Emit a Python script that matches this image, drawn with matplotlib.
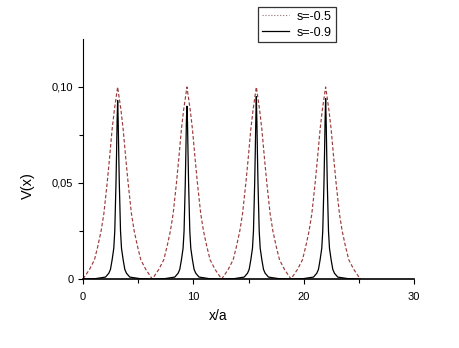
import numpy as np
import matplotlib
matplotlib.use("Agg")
import matplotlib.pyplot as plt
from matplotlib.lines import Line2D
from matplotlib.ticker import MultipleLocator, FixedLocator

plt.rcParams['font.family'] = ['Liberation Sans', 'DejaVu Sans']

# s = -0.5 (red dashed)
red_x = [0.0, 0.24, 0.59, 1.04, 1.34, 1.64, 1.89, 2.19, 2.39, 2.64, 2.84, 2.99,
         3.14, 3.29, 3.44, 3.64, 3.89, 4.09, 4.39, 4.64, 4.94, 5.24, 5.69, 6.04,
         6.28, 6.52, 6.87, 7.32, 7.62, 7.92, 8.17, 8.47, 8.67, 8.92, 9.12, 9.27,
         9.42, 9.57, 9.72, 9.92, 10.17, 10.37, 10.67, 10.92, 11.22, 11.52, 11.97, 12.32,
         12.57, 12.81, 13.16, 13.61, 13.91, 14.21, 14.46, 14.76, 14.96, 15.21, 15.41, 15.56,
         15.71, 15.86, 16.01, 16.21, 16.46, 16.66, 16.96, 17.21, 17.51, 17.81, 18.26, 18.61,
         18.85, 19.09, 19.44, 19.89, 20.19, 20.49, 20.74, 21.04, 21.24, 21.49, 21.69, 21.84,
         21.99, 22.14, 22.29, 22.49, 22.74, 22.94, 23.24, 23.49, 23.79, 24.09, 24.54, 24.89,
         25.13]
red_y = [0.0, 0.002, 0.005, 0.010, 0.017, 0.025, 0.034, 0.050, 0.062, 0.078, 0.088, 0.094,
         0.100, 0.094, 0.088, 0.078, 0.062, 0.050, 0.034, 0.025, 0.017, 0.010, 0.005, 0.002,
         0.0, 0.002, 0.005, 0.010, 0.017, 0.025, 0.034, 0.050, 0.062, 0.078, 0.088, 0.094,
         0.100, 0.094, 0.088, 0.078, 0.062, 0.050, 0.034, 0.025, 0.017, 0.010, 0.005, 0.002,
         0.0, 0.002, 0.005, 0.010, 0.017, 0.025, 0.034, 0.050, 0.062, 0.078, 0.088, 0.094,
         0.100, 0.094, 0.088, 0.078, 0.062, 0.050, 0.034, 0.025, 0.017, 0.010, 0.005, 0.002,
         0.0, 0.002, 0.005, 0.010, 0.017, 0.025, 0.034, 0.050, 0.062, 0.078, 0.088, 0.094,
         0.100, 0.094, 0.088, 0.078, 0.062, 0.050, 0.034, 0.025, 0.017, 0.010, 0.005, 0.002,
         0.0]

# s = -0.9 (black solid)
black_x = [0.0, 1.14, 2.04, 2.34, 2.49, 2.64, 2.79, 2.88, 2.99, 3.04, 3.09,
           3.14, 3.19, 3.24, 3.29, 3.40, 3.49, 3.64, 3.79, 3.94, 4.24, 5.14,
           6.28, 7.42, 8.32, 8.62, 8.77, 8.92, 9.07, 9.16, 9.27, 9.32, 9.37,
           9.42, 9.47, 9.52, 9.57, 9.68, 9.77, 9.92, 10.07, 10.22, 10.52, 11.42,
           12.57, 13.71, 14.61, 14.91, 15.06, 15.21, 15.36, 15.45, 15.56, 15.61, 15.66,
           15.71, 15.76, 15.81, 15.86, 15.97, 16.06, 16.21, 16.36, 16.51, 16.81, 17.71,
           18.85, 19.99, 20.89, 21.19, 21.34, 21.49, 21.64, 21.73, 21.84, 21.89, 21.94,
           21.99, 22.04, 22.09, 22.14, 22.25, 22.34, 22.49, 22.64, 22.79, 23.09, 23.99,
           25.13]
black_y = [0.0, 0.0002, 0.001, 0.003, 0.005, 0.010, 0.016, 0.025, 0.050, 0.065, 0.082,
           0.093, 0.082, 0.065, 0.050, 0.025, 0.016, 0.010, 0.005, 0.003, 0.001, 0.0002,
           0.0, 0.0002, 0.001, 0.003, 0.005, 0.010, 0.016, 0.025, 0.050, 0.065, 0.082,
           0.090, 0.082, 0.065, 0.050, 0.025, 0.016, 0.010, 0.005, 0.003, 0.001, 0.0002,
           0.0, 0.0002, 0.001, 0.003, 0.005, 0.010, 0.016, 0.025, 0.050, 0.065, 0.082,
           0.095, 0.082, 0.065, 0.050, 0.025, 0.016, 0.010, 0.005, 0.003, 0.001, 0.0002,
           0.0, 0.0002, 0.001, 0.003, 0.005, 0.010, 0.016, 0.025, 0.050, 0.065, 0.082,
           0.094, 0.082, 0.065, 0.050, 0.025, 0.016, 0.010, 0.005, 0.003, 0.001, 0.0002,
           0.0]

xticks = [0, 10, 20, 30]
yticks = [0, 0.05, 0.10]
ytick_labels = ["0", "0,05", "0,10"]
labels = ["s=-0.5", "s=-0.9"]

red = '#9c3c3c'

fig = plt.figure(figsize=(4.59, 3.48), dpi=100)
ax = fig.add_axes([83/459, 1 - 279/348, (414 - 83)/459, (279 - 39)/348])

ax.plot(red_x, red_y, color=red, lw=0.85, dashes=(3, 1.8))
ax.plot(black_x, black_y, color='black', lw=0.9)

ax.set_xlim(0, 30)
ax.set_ylim(0, 0.125)
ax.set_xticks(xticks)
ax.set_yticks(yticks)
ax.set_yticklabels(ytick_labels)
ax.xaxis.set_minor_locator(MultipleLocator(5))
ax.yaxis.set_minor_locator(FixedLocator([0.025, 0.075]))
ax.tick_params(which='major', direction='out', length=3.5, width=0.8, labelsize=8)
ax.tick_params(which='minor', direction='out', length=3, width=0.8)
ax.tick_params(axis='y', pad=3.5)
ax.tick_params(axis='x', pad=6)

for side in ['top', 'right']:
    ax.spines[side].set_visible(False)
ax.spines['left'].set_linewidth(0.8)
ax.spines['bottom'].set_linewidth(1.2)

ax.set_xlabel("x/a", fontsize=10)
ax.xaxis.set_label_coords((218 - 83) / 331, (279 - 309) / 240)
ax.set_ylabel("V(x)", fontsize=10.5, va='center')
ax.yaxis.set_label_coords((28 - 83) / 331, (279 - 186) / 240)

handles = [Line2D([], [], color='#907070', lw=0.8, ls=':'),
           Line2D([], [], color='black', lw=0.9)]
leg = fig.legend(handles, labels, loc='upper left',
                 bbox_to_anchor=(258/459, 1 - 7/348), bbox_transform=fig.transFigure,
                 fontsize=9, frameon=True, fancybox=False, borderaxespad=0,
                 handlelength=2.2, handletextpad=0.6, borderpad=0.3, labelspacing=0.3)
leg.get_frame().set_edgecolor('black')
leg.get_frame().set_linewidth(0.9)

fig.savefig("out.png", dpi=100)
